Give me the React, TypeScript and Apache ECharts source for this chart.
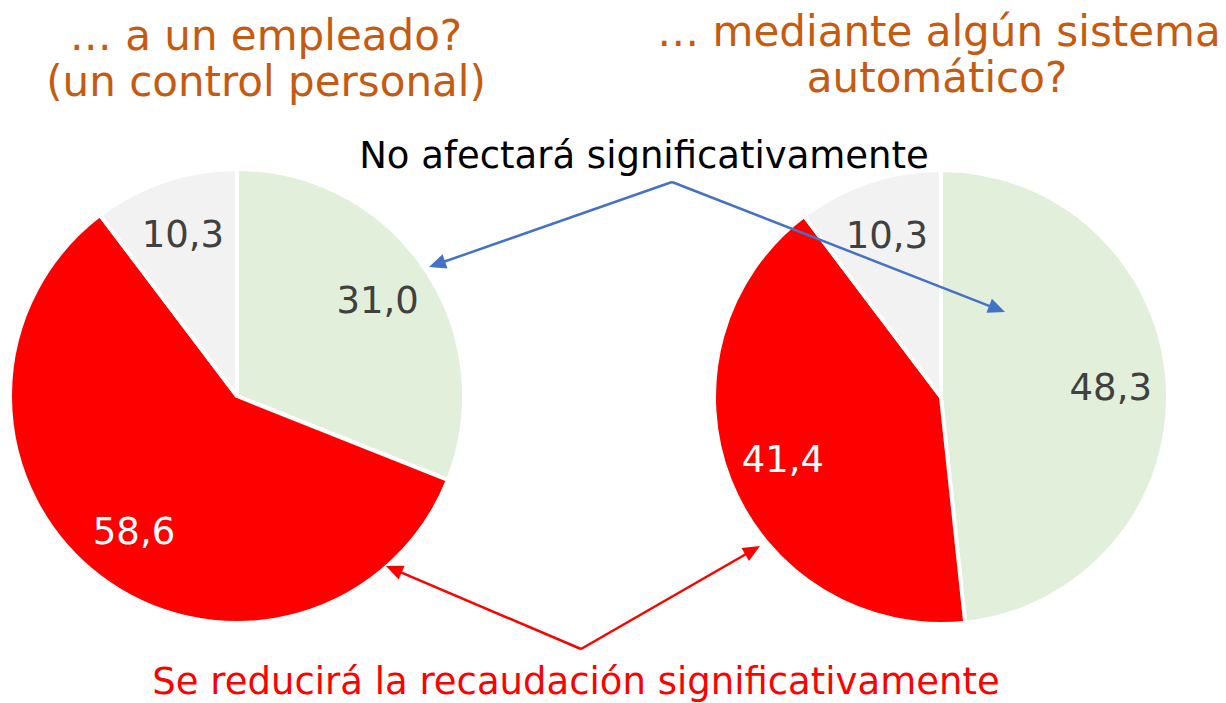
import React, { useEffect, useRef } from "react";
import * as echarts from "echarts";

const categories = ["No afectará significativamente", "Se reducirá la recaudación significativamente", "Otros"];
const empleadoValues = [31.0, 58.6, 10.3];
const automaticoValues = [48.3, 41.4, 10.3];
const sliceColors = ["#E2EFDA", "#FF0000", "#F2F2F2"];
const labelColors = ["#404040", "#FFFFFF", "#404040"];
const titleLeft = ["… a un empleado?", "(un control personal)"];
const titleRight = ["… mediante algún sistema", "automático?"];
const noteTop = "No afectará significativamente";
const noteBottom = "Se reducirá la recaudación significativamente";

const FONT = "DejaVu Sans, Verdana, sans-serif";

function fmt(v: number) {
  return v.toFixed(1).replace(".", ",");
}

function arrow(x1: number, y1: number, x2: number, y2: number, color: string) {
  const dx = x2 - x1;
  const dy = y2 - y1;
  const len = Math.sqrt(dx * dx + dy * dy);
  const ux = dx / len;
  const uy = dy / len;
  const hl = 17;
  const hw = 7.5;
  const bx = x2 - ux * hl;
  const by = y2 - uy * hl;
  return [
    {
      type: "line",
      z: 100,
      shape: { x1, y1, x2: bx + ux * 2, y2: by + uy * 2 },
      style: { stroke: color, lineWidth: 2.5 },
    },
    {
      type: "polygon",
      z: 100,
      shape: {
        points: [
          [x2, y2],
          [bx - uy * hw, by + ux * hw],
          [bx + uy * hw, by - ux * hw],
        ],
      },
      style: { fill: color },
    },
  ];
}

function pieSeries(values: number[], cx: number, cy: number) {
  const data = values.map((v, i) => ({
    name: categories[i],
    value: v,
    itemStyle: { color: sliceColors[i] },
  }));
  const labelData = values.map((v, i) => ({
    name: categories[i],
    value: v,
    label: { color: labelColors[i] },
  }));
  return [
    {
      type: "pie",
      center: [cx, cy],
      radius: [0, 227],
      startAngle: 90,
      clockwise: true,
      silent: true,
      label: { show: false },
      labelLine: { show: false },
      itemStyle: { borderColor: "#FFFFFF", borderWidth: 4 },
      data,
    },
    {
      type: "pie",
      center: [cx, cy],
      radius: [108, 226],
      startAngle: 90,
      clockwise: true,
      silent: true,
      z: 3,
      itemStyle: { color: "rgba(0,0,0,0)", borderWidth: 0 },
      label: {
        show: true,
        position: "inside",
        fontFamily: FONT,
        fontSize: 37,
        formatter: (p: any) => fmt(p.value),
      },
      labelLine: { show: false },
      data: labelData,
    },
  ];
}

export default function App() {
  const ref = useRef<HTMLDivElement>(null);
  useEffect(() => {
    if (!ref.current) return;
    const chart = echarts.init(ref.current, undefined, { renderer: "svg" });
    const titleStyle = { fill: "#C55A11", font: `42px ${FONT}`, align: "center", verticalAlign: "middle" };
    chart.setOption({
      animation: false,
      backgroundColor: "#FFFFFF",
      series: [...pieSeries(empleadoValues, 237, 396), ...pieSeries(automaticoValues, 941, 397)],
      graphic: [
        { type: "text", x: 266, y: 35, style: { ...titleStyle, text: titleLeft[0] } },
        { type: "text", x: 266, y: 81, style: { ...titleStyle, text: titleLeft[1] } },
        { type: "text", x: 939, y: 31, style: { ...titleStyle, text: titleRight[0] } },
        { type: "text", x: 937, y: 77, style: { ...titleStyle, text: titleRight[1] } },
        {
          type: "text",
          x: 644,
          y: 155,
          style: { text: noteTop, fill: "#000000", font: `37px ${FONT}`, align: "center", verticalAlign: "middle" },
        },
        {
          type: "text",
          x: 576,
          y: 681,
          style: { text: noteBottom, fill: "#FF0000", font: `37px ${FONT}`, align: "center", verticalAlign: "middle" },
        },
        ...arrow(672, 182, 429, 267, "#4472C4"),
        ...arrow(672, 182, 1005, 312, "#4472C4"),
        ...arrow(581, 649, 386, 566, "#FF0000"),
        ...arrow(581, 649, 760, 546, "#FF0000"),
      ],
    });
    return () => chart.dispose();
  }, []);
  return <div ref={ref} style={{ position: "absolute", left: 0, top: 0, width: 1226, height: 703 }} />;
}
